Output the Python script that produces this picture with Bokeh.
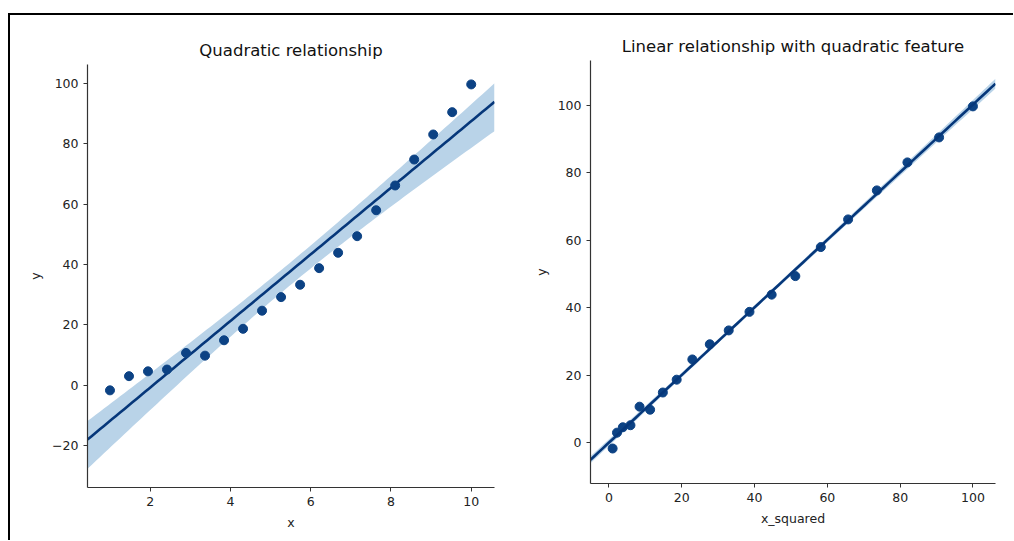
import numpy as np
from bokeh.plotting import figure
from bokeh.layouts import row, column
from bokeh.models import FixedTicker, Range1d
from bokeh.embed import file_html
from bokeh.resources import INLINE

# ---- data ----
x_vals = [1.0, 1.474, 1.947, 2.421, 2.895, 3.368, 3.842, 4.316, 4.789, 5.263,
          5.737, 6.211, 6.684, 7.158, 7.632, 8.105, 8.579, 9.053, 9.526, 10.0]
x_squared = [1.0, 2.2, 3.8, 5.9, 8.4, 11.3, 14.8, 18.6, 22.9, 27.7,
             32.9, 38.6, 44.7, 51.2, 58.2, 65.7, 73.6, 82.0, 90.7, 100.0]
y_vals = [-1.7, 3.0, 4.6, 5.2, 10.7, 9.8, 14.9, 18.7, 24.7, 29.2,
          33.3, 38.8, 43.9, 49.4, 58.0, 66.2, 74.8, 83.1, 90.5, 99.7]

left_title = "Quadratic relationship"
right_title = "Linear relationship with quadratic feature"
left_xticks = [2, 4, 6, 8, 10]
left_yticks = [-20, 0, 20, 40, 60, 80, 100]
right_xticks = [0, 20, 40, 60, 80, 100]
right_yticks = [0, 20, 40, 60, 80, 100]

POINT = "#0c4284"
LINE = "#06377a"
BAND = "#b9d3e8"
FONT = "DejaVu Sans"


def fit_band(x, y, lo, hi, t_up=2.1, t_lo=2.1, n=100):
    x = np.asarray(x, float)
    y = np.asarray(y, float)
    b1, b0 = np.polyfit(x, y, 1)
    resid = y - (b0 + b1 * x)
    s = np.sqrt(np.sum(resid ** 2) / (len(x) - 2))
    xm = x.mean()
    sxx = np.sum((x - xm) ** 2)
    xs = np.linspace(lo, hi, n)
    pred = b0 + b1 * xs
    se = s * np.sqrt(1.0 / len(x) + (xs - xm) ** 2 / sxx)
    return xs, pred, pred - t_lo * se, pred + t_up * se


def style(p, xticks, yticks, xlabel, ylabel):
    p.xaxis.ticker = FixedTicker(ticks=xticks)
    p.yaxis.ticker = FixedTicker(ticks=yticks)
    p.xaxis.axis_label = xlabel
    p.yaxis.axis_label = ylabel
    p.xgrid.visible = False
    p.ygrid.visible = False
    p.outline_line_color = None
    for ax in (p.xaxis[0], p.yaxis[0]):
        ax.axis_line_color = "#333333"
        ax.axis_line_width = 1.2
        ax.major_tick_line_color = "#333333"
        ax.major_tick_out = 4
        ax.major_tick_in = 0
        ax.minor_tick_line_color = None
        ax.major_label_text_font = FONT
        ax.major_label_text_font_size = "12.5px"
        ax.major_label_text_color = "#222222"
        ax.axis_label_text_font = FONT
        ax.axis_label_text_font_size = "12.5px"
        ax.axis_label_text_font_style = "normal"
        ax.axis_label_text_color = "#222222"
        ax.major_label_standoff = 5
        ax.axis_label_standoff = 6
    p.title.text_font = FONT
    p.title.text_font_size = "16.5px"
    p.title.text_font_style = "normal"
    p.title.text_color = "#111111"
    p.title.align = "center"


# ---- left panel ----
lx0, lx1 = 0.44, 10.58
p1 = figure(width=520, height=520, output_backend="svg", toolbar_location=None,
            x_range=Range1d(lx0, lx1), y_range=Range1d(-33.9, 106.3),
            title=left_title, min_border_left=77, min_border_right=36,
            min_border_top=49, min_border_bottom=48)
xs, pred, lo, hi = fit_band(x_vals, y_vals, lx0, lx1, t_up=1.9, t_lo=3.0)
p1.varea(x=xs, y1=lo, y2=hi, fill_color=BAND, fill_alpha=1.0)
p1.line(xs, pred, line_color=LINE, line_width=2.6)
p1.scatter(x_vals, y_vals, size=9, fill_color=POINT, line_color=POINT)
style(p1, left_xticks, left_yticks, "x", "y")

# ---- right panel ----
rx0, rx1 = -5.08, 106.2
p2 = figure(width=475, height=520, output_backend="svg", toolbar_location=None,
            x_range=Range1d(rx0, rx1), y_range=Range1d(-12.07, 113.3),
            title=right_title, min_border_left=56, min_border_right=10,
            min_border_top=45, min_border_bottom=52)
xs2, pred2, lo2, hi2 = fit_band(x_squared, y_vals, rx0, rx1)
p2.varea(x=xs2, y1=lo2, y2=hi2, fill_color=BAND, fill_alpha=1.0)
p2.scatter(x_squared, y_vals, size=9, fill_color=POINT, line_color=POINT)
p2.line(xs2, pred2, line_color=LINE, line_width=2.6)
style(p2, right_xticks, right_yticks, "x_squared", "y")

layout = row(column(p1), column(p2),
             styles={"border-top": "2px solid black",
                     "border-left": "2px solid black",
                     "margin-top": "13px",
                     "margin-left": "8px",
                     "padding-right": "8px",
                     "padding-bottom": "5px"})

open("out.html", "w").write(file_html(layout, INLINE))
